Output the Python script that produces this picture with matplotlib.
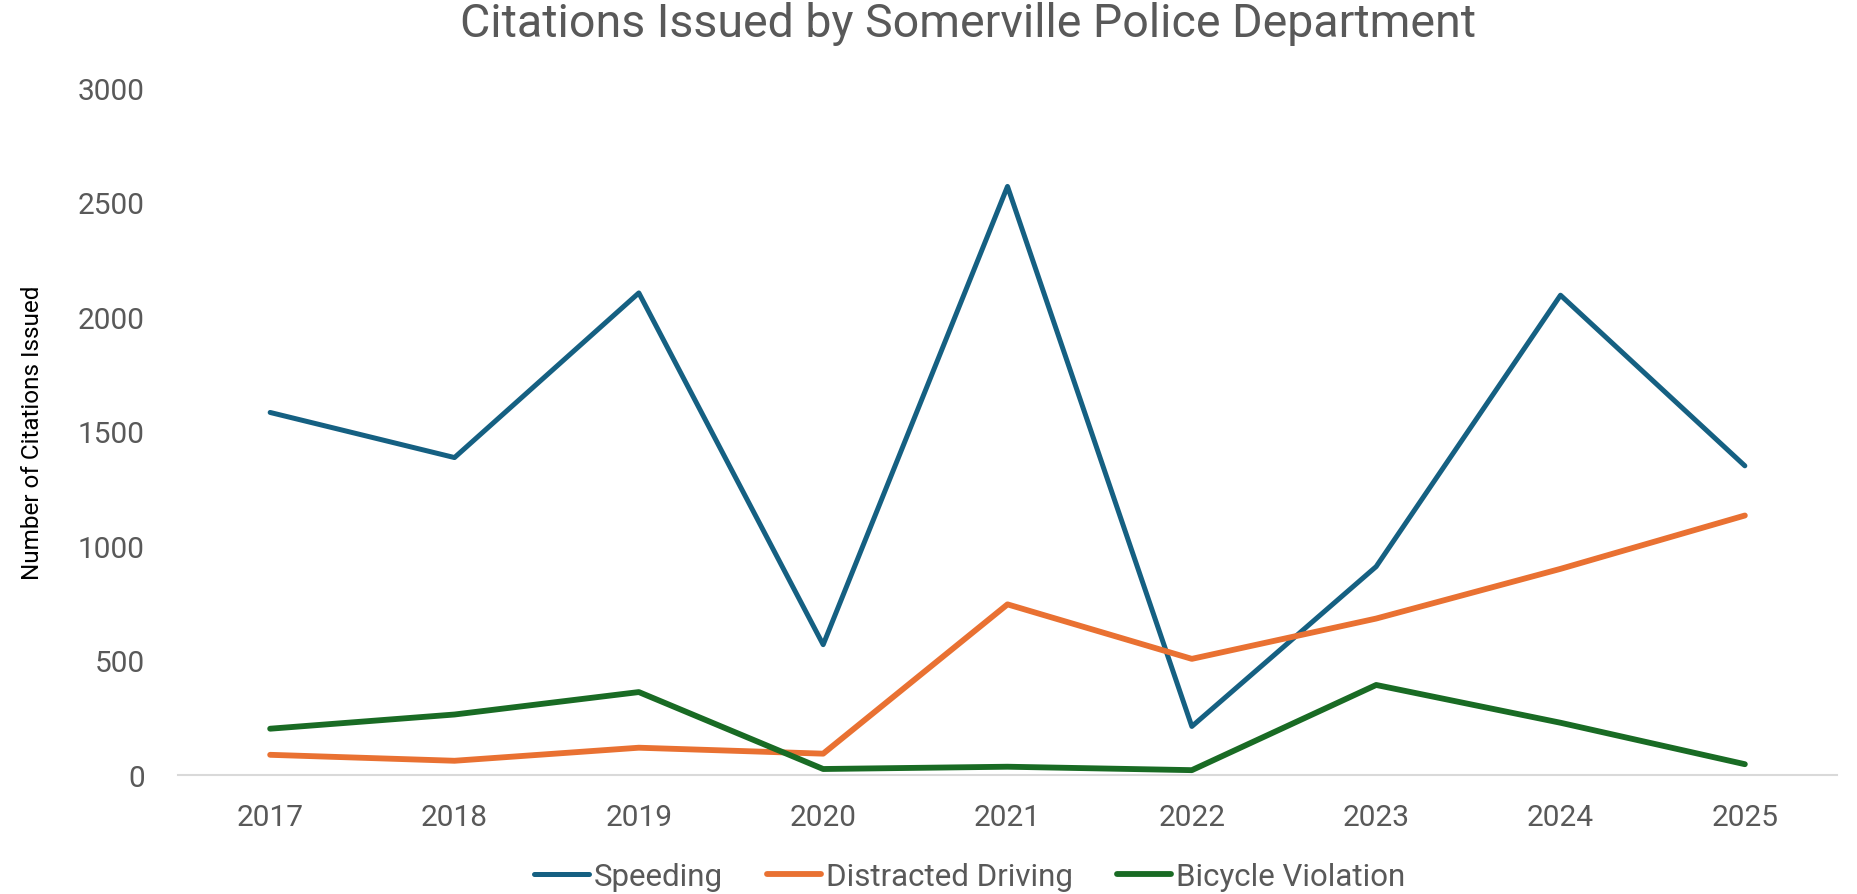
import matplotlib.pyplot as plt
import numpy as np

# data
years = ['2017', '2018', '2019', '2020', '2021', '2022', '2023', '2024', '2025']
speeding = [1583, 1386, 2105, 569, 2570, 212, 910, 2095, 1350]
distracted = [88, 62, 119, 93, 745, 507, 683, 900, 1133]
bicycle = [202, 264, 362, 26, 36, 21, 393, 228, 47]

plt.rcParams['font.family'] = ['Roboto', 'DejaVu Sans']

fig = plt.figure(figsize=(18.58, 8.95), dpi=100)
ax = fig.add_axes([0.0958, 0.1330, 0.8929, 0.7676])

x = np.arange(len(years))
ax.plot(x, speeding, color='#156082', linewidth=3.6, label='Speeding', solid_capstyle='round')
ax.plot(x, distracted, color='#E97132', linewidth=4.2, label='Distracted Driving', solid_capstyle='round')
ax.plot(x, bicycle, color='#196B24', linewidth=4.2, label='Bicycle Violation', solid_capstyle='round')

ax.set_xlim(-0.5, len(years) - 0.5)
ax.set_ylim(0, 3000)
ax.set_yticks(np.arange(0, 3001, 500))
ax.set_xticks(x)
ax.set_xticklabels(years)

for s in ['top', 'right', 'left']:
    ax.spines[s].set_visible(False)
ax.spines['bottom'].set_color('#D9D9D9')
ax.spines['bottom'].set_linewidth(1.5)
ax.tick_params(axis='both', length=0, labelsize=21.5, labelcolor='#595959')
ax.tick_params(axis='y', pad=24)
ax.tick_params(axis='x', pad=20)

ax.set_ylabel('Number of Citations Issued', fontsize=17.5, color='black', labelpad=24)

fig.suptitle('Citations Issued by Somerville Police Department', fontsize=33.5,
             color='#595959', x=0.521, y=0.998, va='top')

leg = fig.legend(loc='lower center', ncol=3, bbox_to_anchor=(0.522, -0.028), frameon=False,
                 fontsize=22.5, handlelength=1.75, columnspacing=1.4, handletextpad=0.15)
for t in leg.get_texts():
    t.set_color('#595959')

fig.savefig('out.png', dpi=100)
